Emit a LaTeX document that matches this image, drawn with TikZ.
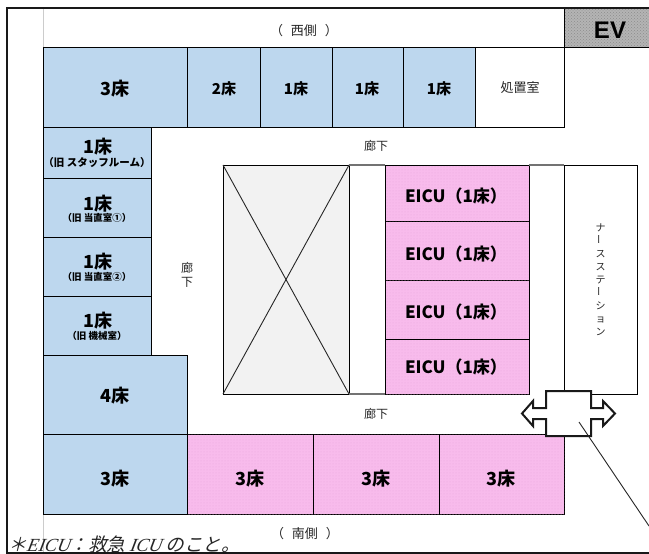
\documentclass[tikz,border=0pt]{standalone}
\usepackage{fontspec}
\usetikzlibrary{patterns}
\setmainfont{Liberation Sans}
\newfontfamily\cjk{Noto Sans CJK JP}
\newfontfamily\serifit[FakeSlant=0.2]{Liberation Serif}
\newfontfamily\cjkit[FakeSlant=0.25]{Noto Sans CJK JP}
\definecolor{roomblue}{HTML}{BDD7EE}
\definecolor{roompink}{HTML}{F8BBEC}
\definecolor{pinkdot}{HTML}{E9A6DC}
\definecolor{evgrey}{HTML}{B4B4B4}
\definecolor{xgrey}{HTML}{F2F2F2}
\newcommand{\fs}[2]{\fontsize{#1}{#2}\selectfont}
\tikzset{
  x=1pt,y=-1pt,
  room/.style={draw=black,line width=1pt,anchor=north west,inner sep=0pt,outer sep=0pt},
  blueroom/.style={room,fill=roomblue},
  pinkroom/.style={room,fill=roompink,postaction={pattern=dots,pattern color=pinkdot}},
  bigbed/.style={font=\cjk\bfseries\fs{18}{20},text=black,inner sep=0pt,yshift=-1pt},
  smallbed/.style={font=\cjk\bfseries\fs{15}{17},text=black,inner sep=0pt,yshift=-1pt},
  eicubed/.style={font=\cjk\bfseries\fs{17}{20},text=black,inner sep=0pt},
  note/.style={font=\cjk\bfseries\fs{9.5}{11},text=black,inner sep=0pt},
  plain/.style={font=\cjk\fs{13}{15},text=black!85,inner sep=0pt},
  doorline/.style={draw=black!90,line width=2pt,line join=miter},
}
\begin{document}
\begin{tikzpicture}
\useasboundingbox (0,0) rectangle (649,554);
\fill[white] (0,0) rectangle (649,554);
% light guide line
\coordinate (gt) at (43,9); \coordinate (gb) at (43,553);
\draw[black!20,line width=0.7pt] (gt) -- (gb);
% top row
\coordinate (tl) at (43,47); \coordinate (tr) at (564,47);
\node[room,draw=none,fill=evgrey,postaction={pattern=crosshatch dots,pattern color=black!45},minimum width=85pt,minimum height=38pt] (ev) at (564,9) {};
\node[font=\bfseries\fs{24}{26},inner sep=0pt] (evt) at (610,30) {EV};
\draw[black,line width=1pt] (564,9) -- (564,47);
\node[plain] (west) at (304,31) {（\hspace{8pt}西側\hspace{8pt}）};
% row 1
\foreach \n/\x/\w in {a/43/144,b/187/73,c/260/72,d/332/71,e/403/72}{
  \node[blueroom,minimum width=\w pt,minimum height=80pt] (\n) at (\x,47) {};
}
\node[bigbed] (at) at (115,88) {3床};
\node[smallbed] (bt) at (224,88) {2床};
\node[smallbed] (ct) at (296,88) {1床};
\node[smallbed] (dt) at (367,88) {1床};
\node[smallbed] (et) at (439,88) {1床};
\node[room,fill=white,minimum width=89pt,minimum height=80pt] (f) at (475,47) {};
\node[plain] (ft) at (520,88) {処置室};
\draw[black,line width=1pt] (tl) -- (ev.south east);
% left column
\node[blueroom,minimum width=108pt,minimum height=51pt] (l1) at (43,127) {};
\node[blueroom,minimum width=108pt,minimum height=59pt] (l2) at (43,178) {};
\node[blueroom,minimum width=108pt,minimum height=59pt] (l3) at (43,237) {};
\node[blueroom,minimum width=108pt,minimum height=59pt] (l4) at (43,296) {};
\node[bigbed] (l1t) at (98,146) {1床};
\node[note,font=\cjk\bfseries\fs{10.5}{12}] (l1s) at (97,163) {（旧 スタッフルーム）};
\node[bigbed] (l2t) at (98,203) {1床};
\node[note] (l2s) at (97,218) {（旧 当直室①）};
\node[bigbed] (l3t) at (98,261) {1床};
\node[note] (l3s) at (97,277) {（旧 当直室②）};
\node[bigbed] (l4t) at (98,320) {1床};
\node[note] (l4s) at (97,336) {（旧 機械室）};
% lower left
\node[blueroom,minimum width=144pt,minimum height=79pt] (g) at (43,355) {};
\node[bigbed] (gt1) at (115,395) {4床};
\node[blueroom,minimum width=144pt,minimum height=80pt] (h) at (43,434) {};
\node[bigbed] (ht) at (115,478) {3床};
% lower pink
\node[pinkroom,minimum width=126pt,minimum height=80pt] (p1) at (187,434) {};
\node[pinkroom,minimum width=126pt,minimum height=80pt] (p2) at (313,434) {};
\node[pinkroom,minimum width=125pt,minimum height=80pt] (p3) at (439,434) {};
\node[bigbed] (p1t) at (250,478) {3床};
\node[bigbed] (p2t) at (376,478) {3床};
\node[bigbed] (p3t) at (501,478) {3床};
% centre X box
\node[room,fill=xgrey,minimum width=126pt,minimum height=229pt] (xb) at (223,165) {};
\draw[black!85,line width=0.9pt] (xb.north west) -- (xb.south east);
\draw[black!85,line width=0.9pt] (xb.north east) -- (xb.south west);
% EICU
\node[pinkroom,minimum width=144pt,minimum height=56pt] (e1) at (385,165) {};
\node[pinkroom,minimum width=144pt,minimum height=59pt] (e2) at (385,221) {};
\node[pinkroom,minimum width=144pt,minimum height=59pt] (e3) at (385,280) {};
\node[pinkroom,minimum width=144pt,minimum height=55pt] (e4) at (385,339) {};
\node[eicubed] (e1t) at (456,196) {EICU（1床）};
\node[eicubed] (e2t) at (456,254) {EICU（1床）};
\node[eicubed] (e3t) at (456,312) {EICU（1床）};
\node[eicubed] (e4t) at (456,367) {EICU（1床）};
\draw[black!55,line width=1.4pt] (xb.north east) -- (e1.north west);
\draw[black!55,line width=1.4pt] (xb.south east) -- (e4.south west);
\draw[black!55,line width=1.4pt] (e1.north east) -- (564,165);
% nurse station
\node[room,fill=white,minimum width=73pt,minimum height=229pt] (ns) at (564,165) {};
\node[font=\cjk\fs{10}{13},text=black!85,inner sep=0pt,align=center] (nst) at (600.5,280) {ナ\\\rotatebox{90}{ー}\\ス\\ス\\テ\\\rotatebox{90}{ー}\\シ\\ョ\\ン};
% corridor labels
\node[plain,font=\cjk\fs{12}{14}] (c1) at (376,146) {廊下};
\node[plain,font=\cjk\fs{12}{14.5},align=center] (c2) at (187,275) {廊\\下};
\node[plain,font=\cjk\fs{12}{14}] (c3) at (376,414) {廊下};
\node[plain] (south) at (305,534) {（\hspace{8pt}南側\hspace{8pt}）};
% door symbol
\coordinate (d0) at (522,413.5);
\fill[white] (546,391) rectangle (591,436);
\draw[doorline,fill=white]
  (546,391) -- (591,391) -- (591,408) -- (603,408) -- (603,401) -- (615,413.5)
  -- (603,426) -- (603,419) -- (591,419) -- (591,436) -- (546,436) -- (546,419)
  -- (533,419) -- (533,426) -- (d0) -- (533,401) -- (533,408) -- (546,408) -- cycle;
\coordinate (la) at (579,422); \coordinate (lb) at (649,526);
\draw[black!85,line width=0.9pt] (la) -- (lb);
% footnote and border
\node[anchor=base west,inner sep=0pt,text=black!85] (fn) at (8,551)
  {\fs{18.5}{20}\cjkit＊\serifit\itshape EICU\cjkit：救急 \serifit\itshape ICU \cjkit のこと。};
\coordinate (bl) at (7,553); \coordinate (tlc) at (7,8);
\draw[black!90,line width=2.3pt] (649,8) -- (tlc) -- (bl) -- (649,553);
\end{tikzpicture}
\end{document}
